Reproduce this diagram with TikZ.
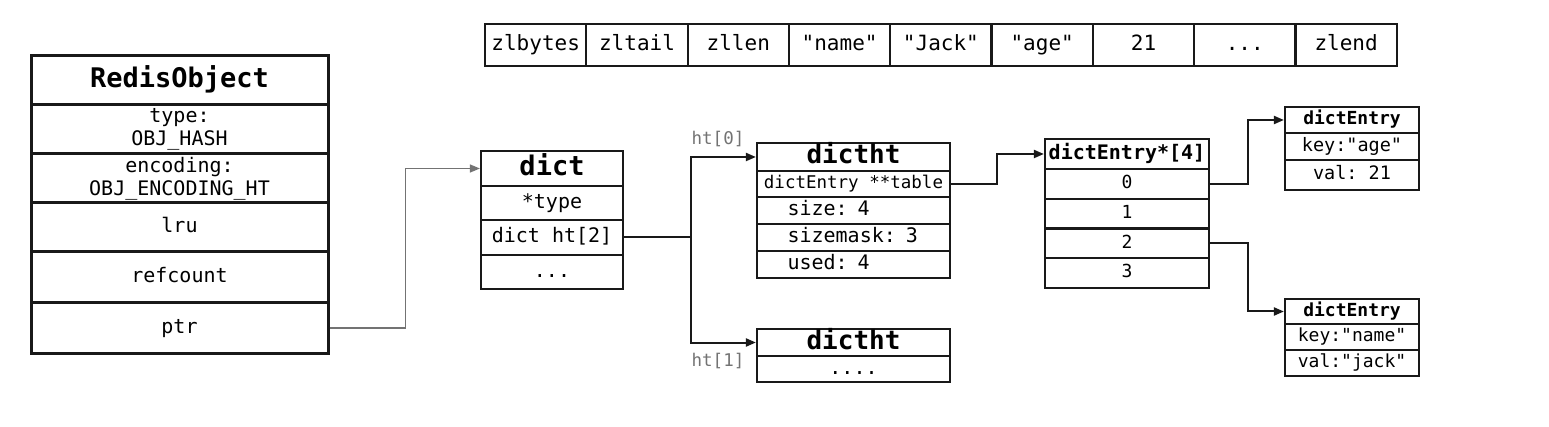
\documentclass[tikz,border=0pt]{standalone}
\usepackage{fontspec}
\setmonofont{DejaVu Sans Mono}
\usetikzlibrary{arrows.meta}

\tikzset{
  multi/.style={font=\ttfamily\fontsize{#1}{23}\selectfont},
  fs/.style={multi=#1, text height=0.74*#1, text depth=0.22*#1},
  hfs/.style={font=\ttfamily\bfseries\fontsize{#1}{30}\selectfont, text height=0.74*#1, text depth=0.22*#1},
  cell/.style={draw=black!90, line width=2.2pt, inner sep=0pt, fs=20},
  box/.style={draw=black!90, line width=2.2pt, inner sep=0pt, multi=20},
  field/.style={text width=132pt, align=left},
  link/.style={draw=black!90, line width=2pt, -{Triangle[length=10pt,width=8pt]}},
  ptrlink/.style={link, draw=black!55, line width=1.4pt},
}

\begin{document}
\begin{tikzpicture}[x=1pt,y=-1pt]
		\useasboundingbox (0,0) rectangle (1549,427);

		% ziplist
		\foreach \txt [count=\i from 0] in {zlbytes,zltail,zllen,"name","Jack","age",21,.{}.{}.,zlend}
			\node[cell, fs=21, minimum width=101.3, minimum height=42] (zl\i) at ({535.7+101.3*\i},45) {\txt};

		% RedisObject
		\node[cell, hfs=27, line width=3pt, minimum width=297, minimum height=49] (robj) at (179.5,80.5) {RedisObject};
		\node[box, line width=3pt, align=center, minimum width=297, minimum height=49] (rotype) at (179.5,129.5) {type:\\OBJ\_HASH};
		\node[box, line width=3pt, align=center, minimum width=297, minimum height=49] (roenc) at (179.5,178.5) {encoding:\\OBJ\_ENCODING\_HT};
		\node[cell, line width=3pt, minimum width=297, minimum height=49] (rolru) at (179.5,227.5) {lru};
		\node[cell, line width=3pt, minimum width=297, minimum height=51] (roref) at (179.5,277.5) {refcount};
		\node[cell, line width=3pt, minimum width=297, minimum height=50] (roptr) at (179.5,328) {ptr};

		% dict
		\node[cell, hfs=27, minimum width=142, minimum height=35] (dict) at (552,168.5) {dict};
		\node[cell, minimum width=142, minimum height=34] (dtype) at (552,203) {*type};
		\node[cell, minimum width=142, minimum height=35] (dht) at (552,237.5) {dict ht[2]};
		\node[cell, minimum width=142, minimum height=34] (dmore) at (552,272) {...};

		% dictht 0
		\node[cell, hfs=26, minimum width=193, minimum height=28] (ht0) at (853.5,157) {dictht};
		\node[cell, fs=17.5, minimum width=193, minimum height=26] (ht0table) at (853.5,184) {dictEntry **table};
		\node[cell, field, minimum width=193, minimum height=27] (ht0size) at (853.5,210.5) {size: 4};
		\node[cell, field, minimum width=193, minimum height=27] (ht0mask) at (853.5,237.5) {sizemask: 3};
		\node[cell, field, minimum width=193, minimum height=27] (ht0used) at (853.5,264.5) {used: 4};

		% dictht 1
		\node[cell, hfs=26, minimum width=193, minimum height=27] (ht1) at (853.5,342.5) {dictht};
		\node[cell, minimum width=193, minimum height=26] (ht1more) at (853.5,369) {....};

		\node[fs=17.5, text=black!55] (lab0) at (718,140) {ht[0]};
		\node[fs=17.5, text=black!55] (lab1) at (718,362) {ht[1]};

		% table array
		\node[cell, hfs=20, minimum width=164, minimum height=30] (arr) at (1127,154) {dictEntry*[4]};
		\foreach \i in {0,...,3}
			\node[cell, fs=18, minimum width=164, minimum height=29.75] (slot\i) at (1127,{183.9+29.75*\i}) {\i};

		% entries
		\node[cell, hfs=18, minimum width=134, minimum height=26] (entA) at (1352,120) {dictEntry};
		\node[cell, fs=18.5, minimum width=134, minimum height=27] (entAkey) at (1352,146.5) {key:"age"};
		\node[cell, fs=18.5, minimum width=134, minimum height=30] (entAval) at (1352,175) {val: 21};
		\node[cell, hfs=18, minimum width=134, minimum height=25] (entB) at (1352,311.5) {dictEntry};
		\node[cell, fs=18, minimum width=134, minimum height=26] (entBkey) at (1352,337) {key:"name"};
		\node[cell, fs=18, minimum width=134, minimum height=26] (entBval) at (1352,363) {val:"jack"};

		% pointers
		\draw[ptrlink] (roptr.east) -- ++(76,0) |- (dict.west);
		\draw[link] (dht.east) -- ++(67,0) |- (ht0.west);
		\draw[link] (dht.east) -- ++(67,0) |- (ht1.west);
		\draw[link] (ht0table.east) -- ++(46,0) |- (arr.west);
		\draw[link] (slot0.east) -- ++(38,0) |- (entA.west);
		\draw[link] (slot2.east) -- ++(38,0) |- (entB.west);
		\end{tikzpicture}
\end{document}
